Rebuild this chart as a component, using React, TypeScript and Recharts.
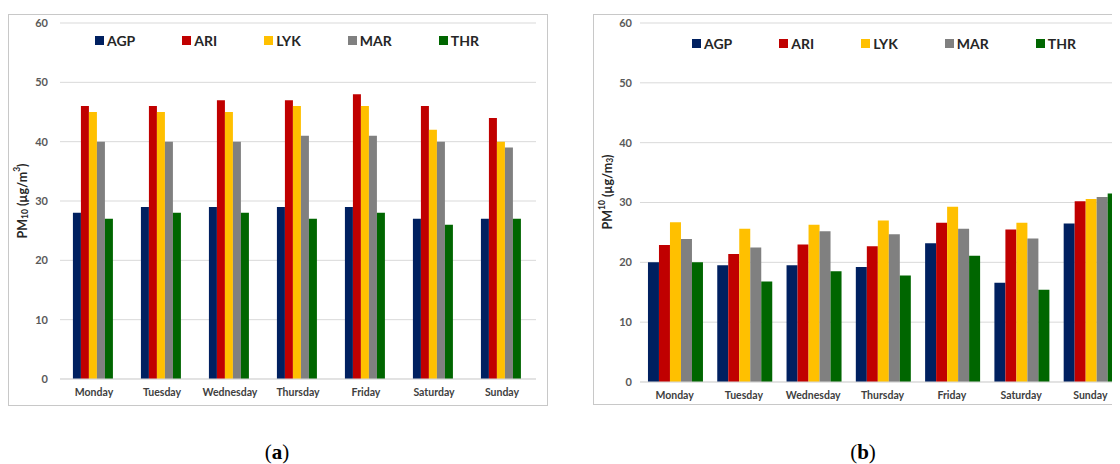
import React from 'react';
import { BarChart, Bar, XAxis, YAxis, CartesianGrid, Legend } from 'recharts';

const days = ['Monday', 'Tuesday', 'Wednesday', 'Thursday', 'Friday', 'Saturday', 'Sunday'];
const seriesNames = ['AGP', 'ARI', 'LYK', 'MAR', 'THR'];
const seriesColors = ['#002060', '#C00000', '#FFC000', '#808080', '#006600'];
const yTicks = [0, 10, 20, 30, 40, 50, 60];

const agpA = [28, 29, 29, 29, 29, 27, 27];
const ariA = [46, 46, 47, 47, 48, 46, 44];
const lykA = [45, 45, 45, 46, 46, 42, 40];
const marA = [40, 40, 40, 41, 41, 40, 39];
const thrA = [27, 28, 28, 27, 28, 26, 27];

const agpB = [20.0, 19.5, 19.5, 19.2, 23.2, 16.6, 26.5];
const ariB = [22.9, 21.4, 23.0, 22.7, 26.6, 25.5, 30.2];
const lykB = [26.7, 25.6, 26.3, 27.0, 29.3, 26.6, 30.6];
const marB = [23.9, 22.5, 25.2, 24.7, 25.6, 24.0, 30.9];
const thrB = [20.0, 16.8, 18.5, 17.8, 21.1, 15.4, 31.5];

const build = (cols: number[][]) =>
  days.map((d, i) => {
    const row: Record<string, string | number> = { day: d };
    seriesNames.forEach((s, k) => {
      row[s] = cols[k][i];
    });
    return row;
  });

const dataA = build([agpA, ariA, lykA, marA, thrA]);
const dataB = build([agpB, ariB, lykB, marB, thrB]);

const FONT = 'Lato, "Open Sans", sans-serif';

const renderLegend = (props: any) => {
  const { payload } = props;
  return (
    <div style={{ display: 'flex', gap: 47, fontFamily: FONT, fontWeight: 700, fontSize: 14, color: '#262626', whiteSpace: 'nowrap' }}>
      {(payload || []).map((p: any) => (
        <div key={p.value} style={{ display: 'flex', alignItems: 'center' }}>
          <span style={{ display: 'inline-block', width: 9, height: 9, background: p.color, marginRight: 3 }} />
          <span>{p.value}</span>
        </div>
      ))}
    </div>
  );
};

const yLabel = (cx: number, cy: number, supMode: 'a' | 'b') => () => (
  <text
    x={cx}
    y={cy}
    transform={`rotate(-90 ${cx} ${cy})`}
    textAnchor="middle"
    dominantBaseline="central"
    fontFamily={FONT}
    fontWeight={700}
    fontSize={12.5}
    fill="#262626"
  >
    {supMode === 'a' ? (
      <>
        <tspan>PM</tspan>
        <tspan fontSize={8.5} dy={3}>10</tspan>
        <tspan dy={-3}> (µg/m</tspan>
        <tspan fontSize={8.5} dy={-5}>3</tspan>
        <tspan dy={5}>)</tspan>
      </>
    ) : (
      <>
        <tspan>PM</tspan>
        <tspan fontSize={8.5} dy={-5}>10</tspan>
        <tspan dy={5}> (µg/m</tspan>
        <tspan fontSize={8.5} dy={3}>3</tspan>
        <tspan dy={-3}>)</tspan>
      </>
    )}
  </text>
);

const frame: React.CSSProperties = {
  position: 'absolute',
  border: '1px solid #c8c8c8',
  background: '#fff',
};

const caption: React.CSSProperties = {
  position: 'absolute',
  top: 432,
  width: 40,
  textAlign: 'center',
  fontFamily: '"Liberation Serif", serif',
  fontSize: 21,
  lineHeight: '24px',
  color: '#000',
};

export default function App() {
  return (
    <div style={{ position: 'relative', width: 1112, height: 456, overflow: 'hidden', background: '#fff' }}>
      <div style={{ ...frame, left: 0, top: 6, width: 538, height: 390 }}>
        <BarChart
          width={538}
          height={390}
          data={dataA}
          margin={{ top: 8, right: 11, bottom: 4, left: 0 }}
          barCategoryGap="19%"
          barGap={0}
        >
          <CartesianGrid vertical={false} stroke="#d9d9d9" strokeWidth={1} />
          <XAxis
            dataKey="day"
            height={22}
            tickLine={false}
            axisLine={{ stroke: '#d9d9d9' }}
            tick={{ fontFamily: FONT, fontWeight: 700, fontSize: 10.5, fill: '#404040' }}
            tickMargin={4}
            interval={0}
          />
          <YAxis
            width={51}
            domain={[0, 60]}
            ticks={yTicks}
            tickLine={false}
            axisLine={false}
            tickMargin={6}
            tick={{ fontFamily: FONT, fontWeight: 700, fontSize: 11, fill: '#595959' }}
            label={{ content: yLabel(13, 186, 'a') }}
          />
          <Legend
            layout="vertical"
            align="center"
            verticalAlign="middle"
            wrapperStyle={{ top: 17, left: 86, width: 'auto' }}
            content={renderLegend}
          />
          {seriesNames.map((s, k) => (
            <Bar key={s} dataKey={s} fill={seriesColors[k]} isAnimationActive={false} />
          ))}
        </BarChart>
      </div>

      <div style={{ ...frame, left: 585, top: 6, width: 560, height: 389 }}>
        <BarChart
          width={545}
          height={389}
          data={dataB}
          margin={{ top: 8, right: 14, bottom: 4, left: 0 }}
          barCategoryGap="11.5%"
          barGap={0}
        >
          <CartesianGrid vertical={false} stroke="#d9d9d9" strokeWidth={1} />
          <XAxis
            dataKey="day"
            height={18}
            tickLine={false}
            axisLine={{ stroke: '#d9d9d9' }}
            tick={{ fontFamily: FONT, fontWeight: 700, fontSize: 10.5, fill: '#404040' }}
            tickMargin={4}
            interval={0}
          />
          <YAxis
            width={46}
            domain={[0, 60]}
            ticks={yTicks}
            tickLine={false}
            axisLine={false}
            tickMargin={2}
            tick={{ fontFamily: FONT, fontWeight: 700, fontSize: 11, fill: '#595959' }}
            label={{ content: yLabel(13, 177, 'b') }}
          />
          <Legend
            layout="vertical"
            align="center"
            verticalAlign="middle"
            wrapperStyle={{ top: 20, left: 98, width: 'auto' }}
            content={renderLegend}
          />
          {seriesNames.map((s, k) => (
            <Bar key={s} dataKey={s} fill={seriesColors[k]} isAnimationActive={false} />
          ))}
        </BarChart>
      </div>

      <div style={{ ...caption, left: 249 }}>
        (<b>a</b>)
      </div>
      <div style={{ ...caption, left: 835 }}>
        (<b>b</b>)
      </div>
    </div>
  );
}
